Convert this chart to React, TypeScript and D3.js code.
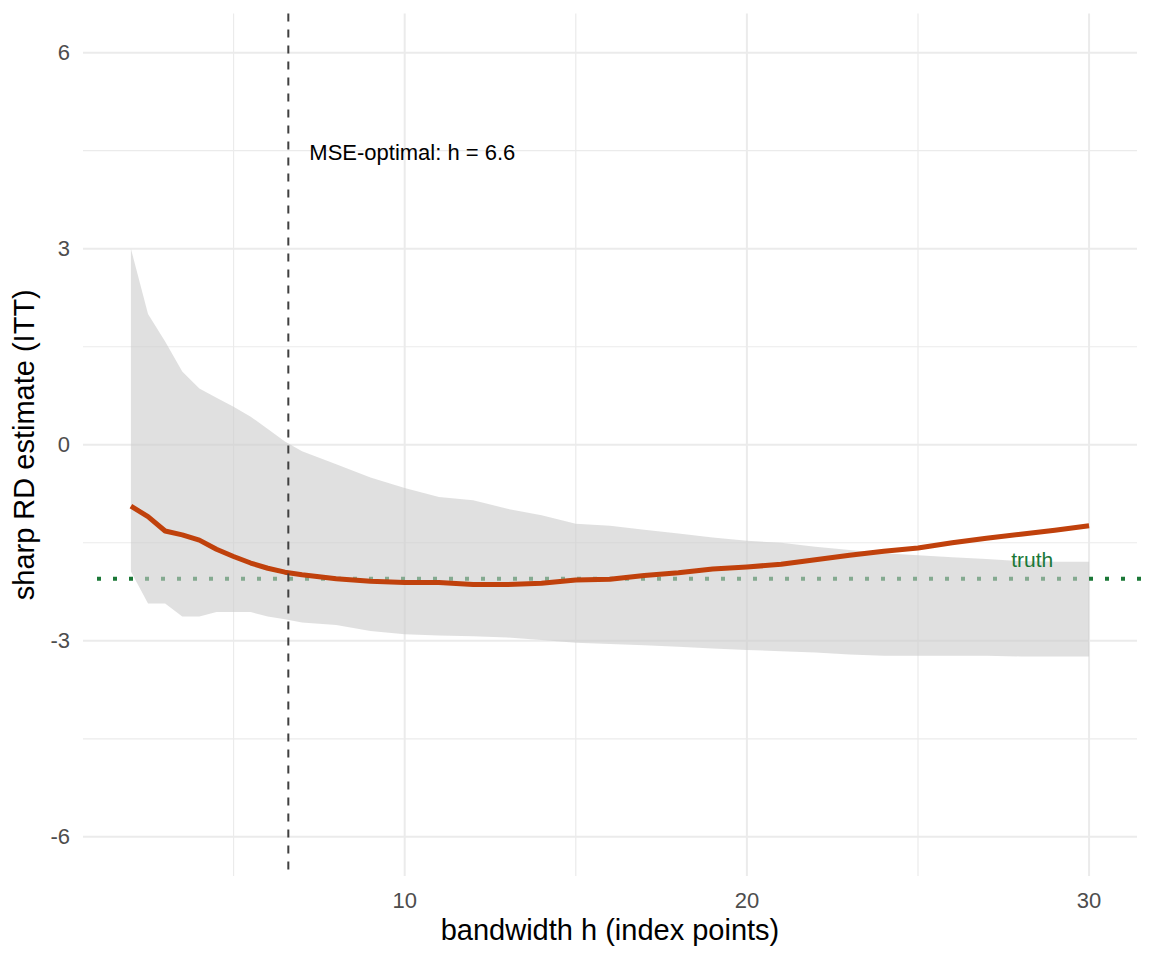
import React from "react";
import * as d3 from "d3";

const bandwidths = [2, 2.5, 3, 3.5, 4, 4.5, 5, 5.5, 6, 6.5, 7, 7.5, 8, 9, 10, 11, 12, 13, 14, 15, 16, 17, 18, 19, 20, 21, 22, 23, 24, 25, 26, 27, 28, 29, 30];
const estimates = [-0.94, -1.1, -1.32, -1.38, -1.46, -1.6, -1.71, -1.81, -1.89, -1.95, -1.99, -2.02, -2.05, -2.09, -2.11, -2.11, -2.14, -2.14, -2.12, -2.07, -2.06, -2.0, -1.96, -1.9, -1.87, -1.83, -1.76, -1.69, -1.63, -1.58, -1.5, -1.43, -1.37, -1.31, -1.24];
const upperCI = [3.0, 2.0, 1.58, 1.12, 0.86, 0.72, 0.58, 0.43, 0.24, 0.05, -0.1, -0.2, -0.3, -0.5, -0.66, -0.8, -0.85, -0.98, -1.08, -1.21, -1.24, -1.3, -1.36, -1.42, -1.47, -1.5, -1.56, -1.61, -1.66, -1.69, -1.72, -1.75, -1.78, -1.79, -1.79];
const lowerCI = [-1.94, -2.43, -2.43, -2.63, -2.63, -2.56, -2.56, -2.56, -2.63, -2.67, -2.72, -2.74, -2.76, -2.85, -2.9, -2.92, -2.93, -2.95, -2.99, -3.03, -3.05, -3.07, -3.09, -3.12, -3.14, -3.16, -3.18, -3.21, -3.23, -3.23, -3.23, -3.23, -3.24, -3.24, -3.24];

const hOptimal = 6.6;
const truthValue = -2.05;
const xMajorTicks = [10, 20, 30];
const xMinorTicks = [5, 15, 25];
const yMajorTicks = [-6, -3, 0, 3, 6];
const yMinorTicks = [-4.5, -1.5, 1.5, 4.5];

const W = 1152;
const H = 960;
const panel = { left: 83, right: 1137, top: 13.5, bottom: 876 };

export default function App() {
  const xDomainRaw = [2, 30];
  const xPad = (xDomainRaw[1] - xDomainRaw[0]) * 0.05;
  const x = d3
    .scaleLinear()
    .domain([xDomainRaw[0] - xPad, xDomainRaw[1] + xPad])
    .range([panel.left, panel.right]);
  const y = d3.scaleLinear().domain([-6.6, 6.6]).range([panel.bottom, panel.top]);

  const rows = bandwidths.map((h, i) => ({ h, est: estimates[i], lo: lowerCI[i], hi: upperCI[i] }));
  const area = d3
    .area<any>()
    .x((d) => x(d.h))
    .y0((d) => y(d.lo))
    .y1((d) => y(d.hi));
  const line = d3
    .line<any>()
    .x((d) => x(d.h))
    .y((d) => y(d.est));

  const font = "'Liberation Sans', Arial, Helvetica, sans-serif";

  return (
    <svg
      width={W}
      height={H}
      style={{ position: "absolute", left: 0, top: 0, background: "#fff" }}
      fontFamily={font}
    >
      <rect x={0} y={0} width={W} height={H} fill="#fff" />
      {/* minor grid */}
      {yMinorTicks.map((t) => (
        <line key={"ym" + t} x1={panel.left} x2={panel.right} y1={y(t)} y2={y(t)} stroke="#EBEBEB" strokeWidth={1.2} />
      ))}
      {xMinorTicks.map((t) => (
        <line key={"xm" + t} x1={x(t)} x2={x(t)} y1={panel.top} y2={panel.bottom} stroke="#EBEBEB" strokeWidth={1.2} />
      ))}
      {/* major grid */}
      {yMajorTicks.map((t) => (
        <line key={"yM" + t} x1={panel.left} x2={panel.right} y1={y(t)} y2={y(t)} stroke="#EBEBEB" strokeWidth={2} />
      ))}
      {xMajorTicks.map((t) => (
        <line key={"xM" + t} x1={x(t)} x2={x(t)} y1={panel.top} y2={panel.bottom} stroke="#EBEBEB" strokeWidth={2} />
      ))}

      {/* truth line */}
      <line
        x1={panel.left}
        x2={panel.right}
        y1={y(truthValue)}
        y2={y(truthValue)}
        stroke="#1B7837"
        strokeWidth={4}
        strokeDasharray="4 12"
        transform="translate(14,0)"
      />

      {/* ribbon */}
      <path d={area(rows) || ""} fill="rgb(204,204,204)" fillOpacity={0.6} />

      {/* estimate line */}
      <path d={line(rows) || ""} fill="none" stroke="#C0410C" strokeWidth={5} strokeLinejoin="round" />

      {/* optimal bandwidth */}
      <line
        x1={x(hOptimal)}
        x2={x(hOptimal)}
        y1={panel.top}
        y2={panel.bottom}
        stroke="#404040"
        strokeWidth={2}
        strokeDasharray="8 8"
      />

      <text x={x(hOptimal) + 21} y={y(4.48)} fontSize={22} fill="#000" dominantBaseline="central">
        MSE-optimal: h = 6.6
      </text>
      <text x={x(28.95)} y={y(truthValue + 0.3)} fontSize={21} fill="#1B7837" textAnchor="end" dominantBaseline="central">
        truth
      </text>

      {/* axes labels */}
      {yMajorTicks.map((t) => (
        <text key={"yl" + t} x={70} y={y(t)} fontSize={22} fill="#4D4D4D" textAnchor="end" dominantBaseline="central">
          {t < 0 ? "-" + Math.abs(t) : String(t)}
        </text>
      ))}
      {xMajorTicks.map((t) => (
        <text key={"xl" + t} x={x(t)} y={908} fontSize={22} fill="#4D4D4D" textAnchor="middle">
          {t}
        </text>
      ))}

      <text x={(panel.left + panel.right) / 2} y={940} fontSize={29} fill="#000" textAnchor="middle">
        bandwidth h (index points)
      </text>
      <text
        transform={`translate(34,${(panel.top + panel.bottom) / 2}) rotate(-90)`}
        fontSize={29}
        fill="#000"
        textAnchor="middle"
      >
        sharp RD estimate (ITT)
      </text>
    </svg>
  );
}
